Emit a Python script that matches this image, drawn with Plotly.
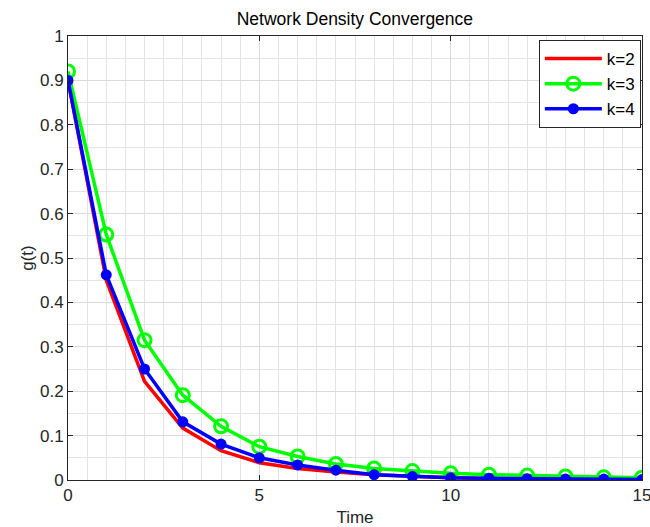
import plotly.graph_objects as go

time = list(range(16))
k2 = [0.90, 0.45, 0.222, 0.117, 0.066, 0.039, 0.026, 0.018, 0.012, 0.008, 0.005, 0.003, 0.002, 0.002, 0.001, 0.001]
k3 = [0.92, 0.553, 0.315, 0.191, 0.121, 0.075, 0.053, 0.036, 0.026, 0.020, 0.015, 0.012, 0.010, 0.008, 0.006, 0.005]
k4 = [0.90, 0.462, 0.25, 0.131, 0.081, 0.050, 0.034, 0.022, 0.012, 0.008, 0.005, 0.004, 0.003, 0.002, 0.002, 0.001]

font = "Liberation Sans, Arial, sans-serif"
fig = go.Figure()
fig.add_trace(go.Scatter(x=time, y=k2, mode="lines", name="k=2",
                         line=dict(color="#ff0000", width=3.5)))
fig.add_trace(go.Scatter(x=time, y=k3, mode="lines+markers", name="k=3",
                         line=dict(color="#00ff00", width=3.5),
                         marker=dict(symbol="circle-open", size=13, color="#00ff00",
                                     line=dict(width=3, color="#00ff00"))))
fig.add_trace(go.Scatter(x=time, y=k4, mode="lines+markers", name="k=4",
                         line=dict(color="#0000ff", width=3.5),
                         marker=dict(symbol="circle", size=11, color="#0000ff")))

grid = "#dadada"
axis_common = dict(showline=True, linecolor="#262626", linewidth=1, mirror="ticks",
                   ticks="inside", ticklen=5, tickcolor="#262626", zeroline=False,
                   showgrid=True, gridcolor=grid, gridwidth=1, automargin=False,
                   ticklabeloverflow="allow",
                   tickfont=dict(family=font, size=17, color="#262626"))
fig.update_xaxes(range=[0, 15], tickvals=[0, 5, 10, 15],
                 minor=dict(dtick=0.5, showgrid=True, gridcolor="#e4e4e4", gridwidth=1, ticks=""),
                 title=dict(text="Time", font=dict(family=font, size=17, color="#262626"), standoff=8),
                 **axis_common)
fig.update_yaxes(range=[0, 1], dtick=0.1, tickformat="~g",
                 minor=dict(dtick=0.05, showgrid=True, gridcolor="#e4e4e4", gridwidth=1, ticks=""),
                 title=dict(text="g(t)", font=dict(family=font, size=17, color="#262626"), standoff=2),
                 **axis_common)

fig.update_layout(
    width=650, height=527,
    margin=dict(l=68, r=8, t=36, b=47),
    paper_bgcolor="white", plot_bgcolor="white",
    title=dict(text="Network Density Convergence", x=0.546, xanchor="center", y=0.964, yanchor="middle",
               font=dict(family=font, size=17.5, color="#000000")),
    legend=dict(x=0.998, y=0.991, xanchor="right", yanchor="top",
                bgcolor="white", bordercolor="#262626", borderwidth=1,
                font=dict(family=font, size=17, color="#000000"),
                itemwidth=57),
    showlegend=True,
)

fig.write_html("out.html", config={"displayModeBar": False},
               post_script="document.body.style.margin='0px';document.body.style.overflow='hidden';")
